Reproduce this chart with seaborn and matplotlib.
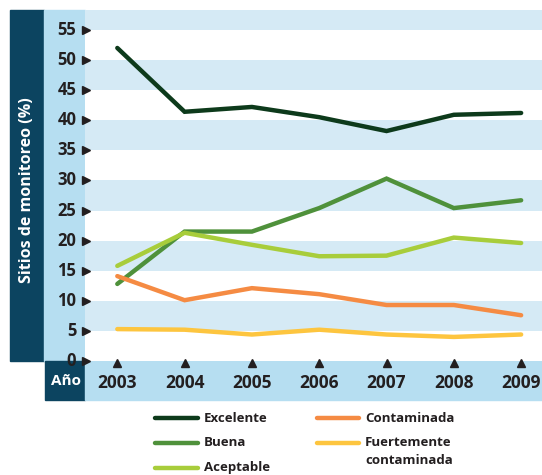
import matplotlib
matplotlib.use("Agg")
import matplotlib.pyplot as plt
import seaborn as sns
import pandas as pd
from matplotlib.patches import Rectangle
from matplotlib.lines import Line2D
from matplotlib.transforms import blended_transform_factory

years = [2003, 2004, 2005, 2006, 2007, 2008, 2009]
excelente = [52.0, 41.4, 42.2, 40.5, 38.2, 40.9, 41.2]
buena = [12.8, 21.5, 21.5, 25.4, 30.3, 25.4, 26.7]
aceptable = [15.8, 21.3, 19.3, 17.4, 17.5, 20.5, 19.6]
contaminada = [14.1, 10.1, 12.1, 11.1, 9.3, 9.3, 7.6]
fuerte = [5.3, 5.2, 4.4, 5.2, 4.4, 4.0, 4.4]
series_names = ["Excelente", "Buena", "Aceptable", "Contaminada", "Fuertemente\ncontaminada"]
yticks = [0, 5, 10, 15, 20, 25, 30, 35, 40, 45, 50, 55]
colors = ["#0d3a1b", "#4f913b", "#a8cd3b", "#f58b43", "#fdc53f"]

DARK = "#0c4460"
LIGHT = "#b6def1"
BAND = "#d5eaf5"
TXT = "#231f20"

sns.set_theme(style="white")
plt.rcParams["font.family"] = ["Open Sans", "DejaVu Sans"]

W, H = 542, 475
fig = plt.figure(figsize=(W / 100, H / 100), dpi=100)

def fx(px):
    return px / W

def fy(py):
    return 1 - py / H

ax_l, ax_r, ax_t, ax_b = 85, 542, 10, 361
ax = fig.add_axes([fx(ax_l), fy(ax_b), fx(ax_r - ax_l), fy(ax_t) - fy(ax_b)])
ax.set_zorder(1)

# decorative side/bottom panels
for (x0, y0, x1, y1, c) in [(10, 10, 44, 361, DARK), (44, 10, 85, 361, LIGHT),
                            (45, 361, 85, 400, DARK), (85, 361, 542, 400, LIGHT)]:
    fig.patches.append(Rectangle((fx(x0), fy(y1)), fx(x1 - x0), fy(y0) - fy(y1),
                                 transform=fig.transFigure, color=c, zorder=-5))

rows = []
for name, vals in zip(series_names, [excelente, buena, aceptable, contaminada, fuerte]):
    for yr, v in zip(years, vals):
        rows.append({"Año": yr, "Valor": v, "Serie": name})
df = pd.DataFrame(rows)

ymax = (361 - 10) / 6.02
ax.set_ylim(0, ymax)
ax.set_xlim(2002.52, 2009.31)

# horizontal bands
for b in [5, 15, 25, 35, 45, 55]:
    top = b + 5 if b < 55 else ymax
    ax.axhspan(b, top, color=BAND, lw=0, zorder=0)

sns.lineplot(data=df, x="Año", y="Valor", hue="Serie", palette=colors,
             hue_order=series_names, lw=3.2, ax=ax, legend=False, zorder=3,
             solid_capstyle="round", solid_joinstyle="miter")

for s in ax.spines.values():
    s.set_visible(False)
ax.set_xticks(years)
ax.set_yticks(yticks)
ax.set_xticklabels([])
ax.set_yticklabels([])
ax.tick_params(length=0)
ax.set_xlabel("")
ax.set_ylabel("")
ax.grid(False)
ax.set_facecolor("white")

# y tick triangles and labels
tr_y = blended_transform_factory(ax.transAxes, ax.transData)
for t in yticks:
    ax.plot([0.002], [t], marker=">", ms=6, color=TXT, transform=tr_y, clip_on=False, zorder=5)
    ax.text(-0.019, t, str(t), transform=tr_y, ha="right", va="center",
            fontsize=12, fontweight="bold", color=TXT, clip_on=False)

# x tick triangles and labels
tr_x = blended_transform_factory(ax.transData, ax.transAxes)
for yr in years:
    ax.plot([yr], [-0.006], marker="^", ms=6, color=TXT, transform=tr_x, clip_on=False, zorder=5)
    ax.text(yr, -0.064, str(yr), transform=tr_x, ha="center", va="center",
            fontsize=12.5, fontweight="bold", color=TXT, clip_on=False)

fig.text(fx(27), fy(190), "Sitios de monitoreo (%)", rotation=90, ha="center", va="center",
         color="white", fontsize=11.5, fontweight="bold")
fig.text(fx(66), fy(381), "Año", ha="center", va="center",
         color="white", fontsize=11, fontweight="bold")

# legend (manual layout)
leg_items = [
    (155, 198, 204, 418, 0),
    (155, 198, 204, 443, 1),
    (155, 198, 204, 468, 2),
    (317, 359, 365, 418, 3),
    (317, 359, 365, 443, 4),
]
for x0, x1, xt, yy, i in leg_items:
    fig.add_artist(Line2D([fx(x0), fx(x1)], [fy(yy), fy(yy)], transform=fig.transFigure,
                          color=colors[i], lw=3.2, solid_capstyle="round"))
    for k, ln in enumerate(series_names[i].split("\n")):
        fig.text(fx(xt), fy(yy + k * 17), ln, ha="left", va="center",
                 fontsize=9.5, fontweight="bold", color=TXT)

fig.savefig("out.png", dpi=100)
